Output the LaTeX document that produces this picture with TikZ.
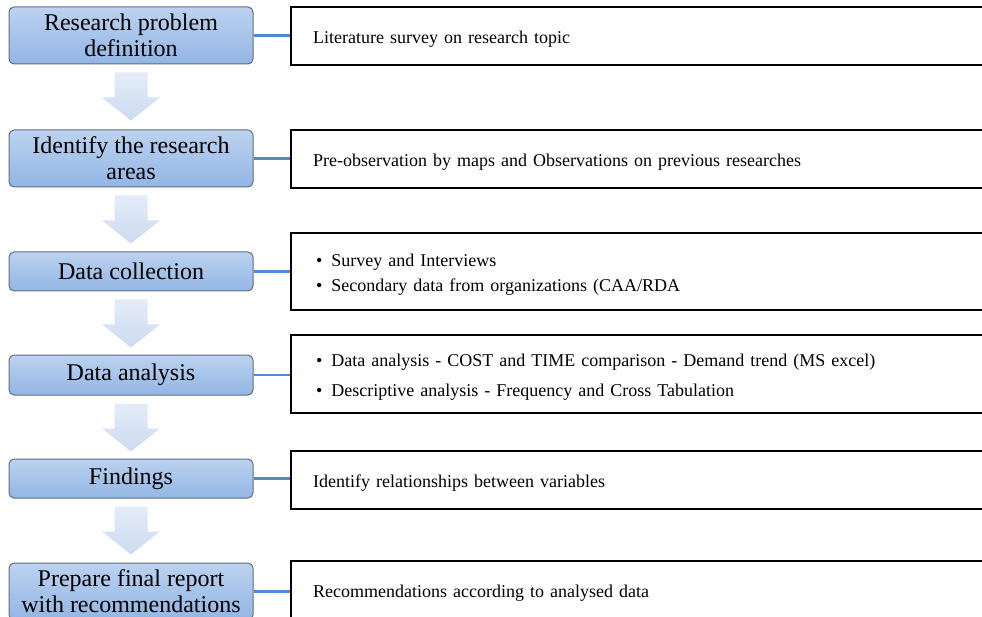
\documentclass[tikz,border=0pt]{standalone}
\usepackage{fontspec}
\setmainfont{Liberation Serif}
\usetikzlibrary{calc}
\definecolor{stagetop}{RGB}{188,210,240}
\definecolor{stagebot}{RGB}{146,182,228}
\definecolor{stageline}{RGB}{98,110,128}
\definecolor{arrowtop}{RGB}{228,236,248}
\definecolor{arrowbot}{RGB}{204,219,240}
\definecolor{linkblue}{RGB}{79,140,205}
\newcommand{\itm}{\hspace*{3pt}\textbullet\hspace{9pt}}

\begin{document}
\begin{tikzpicture}[x=1pt,y=-1pt,
  stage/.style={rounded corners=5pt,draw=stageline,line width=1pt,top color=stagetop,bottom color=stagebot,
    minimum width=244pt,inner sep=0pt,align=center,font=\fontsize{24}{26}\selectfont},
  note/.style={draw,line width=2.4pt,anchor=west,text width=670pt,inner xsep=22pt,
    inner ysep=0pt,align=left,font=\fontsize{18}{25}\selectfont,
    execute at begin node=\rule{0pt}{18.5pt}},
  link/.style={draw=linkblue,line width=2.2pt}]
  \useasboundingbox (0,0) rectangle (982,617);
  \clip (0,0) rectangle (982,617);

  % steps
  \node[stage,minimum height=57pt] (s1) at (131,35.5) {Research problem\\definition};
  \node[stage,minimum height=57pt] (s2) at (131,158.5) {Identify the research\\areas};
  \node[stage,minimum height=39pt] (s3) at (131,271.5) {Data collection};
  \node[stage,minimum height=40pt] (s4) at (131,375) {Data analysis};
  \node[stage,minimum height=39pt] (s5) at (131,478.5) {Findings};
  \node[stage,minimum height=57pt] (s6) at (131,591.5) {Prepare final report\\with recommendations};

  % notes
  \node[note,minimum height=58pt] (n1) at (290,36) {Literature survey on research topic};
  \node[note,minimum height=58pt] (n2) at (290,159) {Pre-observation by maps and Observations on previous researches};
  \node[note,minimum height=77pt] (n3) at (290,271.5) {\itm Survey and Interviews\\
    \itm Secondary data from organizations (CAA/RDA};
  \node[note,minimum height=78pt,font=\fontsize{18}{30}\selectfont] (n4) at (290,374) {\itm Data analysis - COST and TIME comparison - Demand trend (MS excel)\\
    \itm Descriptive analysis - Frequency and Cross Tabulation};
  \node[note,minimum height=58pt] (n5) at (290,480) {Identify relationships between variables};
  \node[note,minimum height=58pt] (n6) at (290,590) {Recommendations according to analysed data};

  \foreach \i in {1,...,6}
    \draw[link] (s\i.east) -- (s\i.east -| n\i.west);

  % block arrows
  \foreach \a/\b in {s1/s2,s2/s3,s3/s4,s4/s5,s5/s6}
    \shade[top color=arrowtop,bottom color=arrowbot]
      ($(\a.south)+(-16.5,8)$) -- ++(33,0) -- ++(0,25) -- ++(12.5,0)
      -- ++(-29,23) -- ++(-29,-23) -- ++(12.5,0) -- cycle;
\end{tikzpicture}
\end{document}
